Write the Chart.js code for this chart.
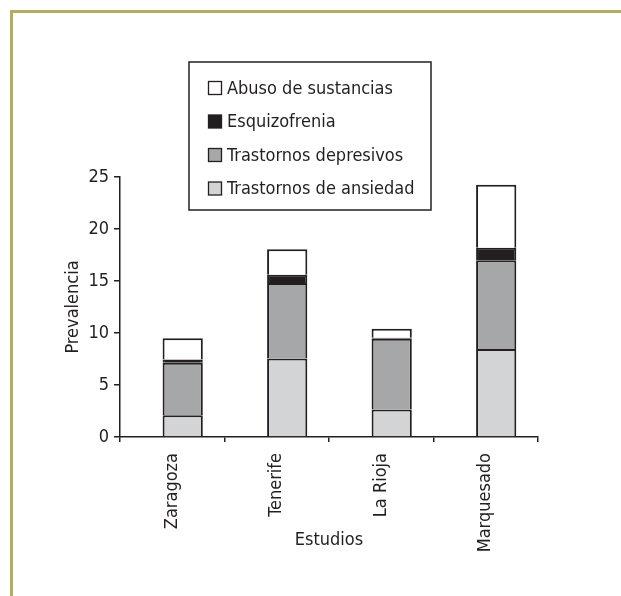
<!DOCTYPE html>
<html>
<head>
<meta charset="utf-8">
<script src="https://cdn.jsdelivr.net/npm/chart.js@4/dist/chart.umd.min.js"></script>
<style>
  html, body { margin: 0; padding: 0; background: #fff; }
  #wrap { position: relative; width: 621px; height: 596px; overflow: hidden; }
  #frame {
    position: absolute; left: 10px; top: 10px; width: 700px; height: 700px;
    border-top: 3px solid #b3ad62; border-left: 3px solid #b3ad62;
  }
  canvas { position: absolute; left: 0; top: 0; }
</style>
</head>
<body>
<div id="wrap">
  <div id="frame"></div>
  <canvas id="myChart" width="621" height="596"></canvas>
</div>
<script>
// Data
const studies = ['Zaragoza', 'Tenerife', 'La Rioja', 'Marquesado'];
const anxiety = [2.1, 7.55, 2.65, 8.45];
const depressive = [5.05, 7.25, 6.8, 8.55];
const schizophrenia = [0.3, 0.8, 0.1, 1.2];
const substanceAbuse = [2.05, 2.45, 0.85, 6.05];
const yTicks = [0, 5, 10, 15, 20, 25];

const ink = '#231f20';
const fontFamily = "'Liberation Sans Narrow', 'DejaVu Sans Condensed', Arial, sans-serif";

// legend drawn inside the plot, in reverse dataset order
const boxLegend = {
    id: 'boxLegend',
    afterDraw(chart) {
        const ctx = chart.ctx;
        const area = chart.chartArea;
        const x = area.left + 69;
        const y = area.top - 115;
        const w = 242;
        const h = 148;
        ctx.save();
        ctx.fillStyle = '#fff';
        ctx.fillRect(x, y, w, h);
        ctx.strokeStyle = ink;
        ctx.lineWidth = 1.5;
        ctx.strokeRect(x, y, w, h);
        ctx.font = '18px ' + fontFamily;
        ctx.textBaseline = 'middle';
        const sets = chart.data.datasets.slice().reverse();
        sets.forEach((ds, i) => {
            const cy = y + 26 + i * 33.5;
            ctx.fillStyle = ds.backgroundColor;
            ctx.fillRect(x + 19.5, cy - 6.5, 13, 13);
            ctx.lineWidth = 1.3;
            ctx.strokeStyle = ink;
            ctx.strokeRect(x + 19.5, cy - 6.5, 13, 13);
            ctx.fillStyle = ink;
            ctx.fillText(ds.label, x + 38, cy + 1);
        });
        ctx.restore();
    }
};

const series = [
    { label: 'Trastornos de ansiedad', data: anxiety, backgroundColor: '#d3d4d6' },
    { label: 'Trastornos depresivos', data: depressive, backgroundColor: '#a6a7a9' },
    { label: 'Esquizofrenia', data: schizophrenia, backgroundColor: '#231f20' },
    { label: 'Abuso de sustancias', data: substanceAbuse, backgroundColor: '#ffffff' }
];

// in the original the bars sit a little right of the category centres,
// so they go on an invisible linear axis shifted by a tenth of a category
const barShift = 0.1;

new Chart(document.getElementById('myChart'), {
    type: 'bar',
    data: {
        labels: studies,
        datasets: series.map(s => ({
            label: s.label,
            data: s.data.map((v, i) => ({ x: i, y: v })),
            xAxisID: 'xBars',
            backgroundColor: s.backgroundColor,
            borderColor: ink,
            borderWidth: 2,
            barPercentage: 0.385,
            categoryPercentage: 1
        }))
    },
    options: {
        responsive: false,
        animation: false,
        layout: {
            padding: { left: 0, top: 177, right: 83, bottom: 40 }
        },
        plugins: {
            legend: { display: false },
            tooltip: { enabled: false }
        },
        scales: {
            xBars: {
                type: 'linear',
                position: 'bottom',
                stacked: true,
                offset: false,
                min: -0.5 - barShift,
                max: studies.length - 0.5 - barShift,
                afterBuildTicks: (scale) => {
                    scale.ticks = studies.map((_, i) => ({ value: i }));
                },
                afterFit: (scale) => { scale.height = 0; },
                ticks: { display: false },
                grid: { display: false, offset: false },
                border: { display: false }
            },
            x: {
                type: 'category',
                position: 'bottom',
                afterFit: (scale) => { scale.height = 119; },
                grid: {
                    offset: true,
                    drawOnChartArea: false,
                    drawTicks: true,
                    tickLength: 5,
                    color: ink,
                    lineWidth: 1.5
                },
                border: { display: true, color: ink, width: 1.5 },
                ticks: {
                    color: ink,
                    font: { family: fontFamily, size: 18 },
                    maxRotation: 90,
                    minRotation: 90,
                    padding: 11
                },
                title: {
                    display: true,
                    text: 'Estudios',
                    color: ink,
                    font: { family: fontFamily, size: 18 },
                    padding: { top: 0, bottom: 5 }
                }
            },
            y: {
                stacked: true,
                min: 0,
                max: 25,
                afterFit: (scale) => { scale.width = 120; },
                afterBuildTicks: (scale) => {
                    scale.ticks = yTicks.map(v => ({ value: v }));
                },
                grid: {
                    drawOnChartArea: false,
                    drawTicks: true,
                    tickLength: 6,
                    color: ink,
                    lineWidth: 1.5
                },
                border: { display: true, color: ink, width: 1.5 },
                ticks: {
                    color: ink,
                    font: { family: fontFamily, size: 18 },
                    padding: 5
                },
                title: {
                    display: true,
                    text: 'Prevalencia',
                    color: ink,
                    font: { family: fontFamily, size: 18 },
                    padding: { top: 63, bottom: 0 }
                }
            }
        }
    },
    plugins: [boxLegend]
});
</script>
</body>
</html>
